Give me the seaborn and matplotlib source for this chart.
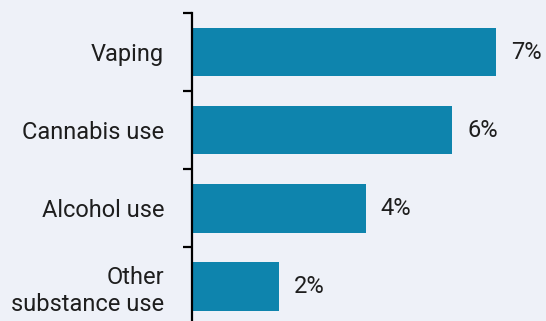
import matplotlib
matplotlib.use("Agg")
import matplotlib.pyplot as plt
import seaborn as sns
import pandas as pd

categories = ["Vaping", "Cannabis use", "Alcohol use", "Other\nsubstance use"]
values = [7, 6, 4, 2]
value_labels = ["7%", "6%", "4%", "2%"]

BG = "#EEF1F8"
BAR = "#0E84AD"
TEXT = "#1E1E1E"

sns.set_theme(style="white")
plt.rcParams["font.family"] = ["Roboto", "DejaVu Sans"]

df = pd.DataFrame({"category": categories, "value": values})

fig = plt.figure(figsize=(5.46, 3.21), dpi=100, facecolor=BG)
ax = fig.add_axes([192 / 546, 0.0, 354 / 546, 1 - 13 / 321])
ax.set_facecolor(BG)

sns.barplot(data=df, y="category", x="value", orient="h", color=BAR,
            width=0.62, saturation=1, linewidth=0, ax=ax)

ax.set_xlim(0, 354 / 43.4)
ax.set_ylim(3.5 - (325.5 - 321) / 78, -0.5)

for i, (v, lab) in enumerate(zip(values, value_labels)):
    ax.annotate(lab, xy=(v, i), xytext=(11, 0), textcoords="offset points",
                va="center", ha="left", fontsize=17, color=TEXT)

ax.set_xlabel("")
ax.set_ylabel("")
ax.set_xticks([])
ax.tick_params(axis="y", which="major", left=True, length=0, pad=20,
               labelsize=17, labelcolor=TEXT)
ax.set_yticks([-0.5, 0.5, 1.5, 2.5], minor=True)
ax.tick_params(axis="y", which="minor", left=True, length=6.5, width=1.6,
               color="black", direction="out")

for side in ["top", "right", "bottom"]:
    ax.spines[side].set_visible(False)
ax.spines["left"].set_color("black")
ax.spines["left"].set_linewidth(1.6)

fig.savefig("out.png", dpi=100, facecolor=BG)
